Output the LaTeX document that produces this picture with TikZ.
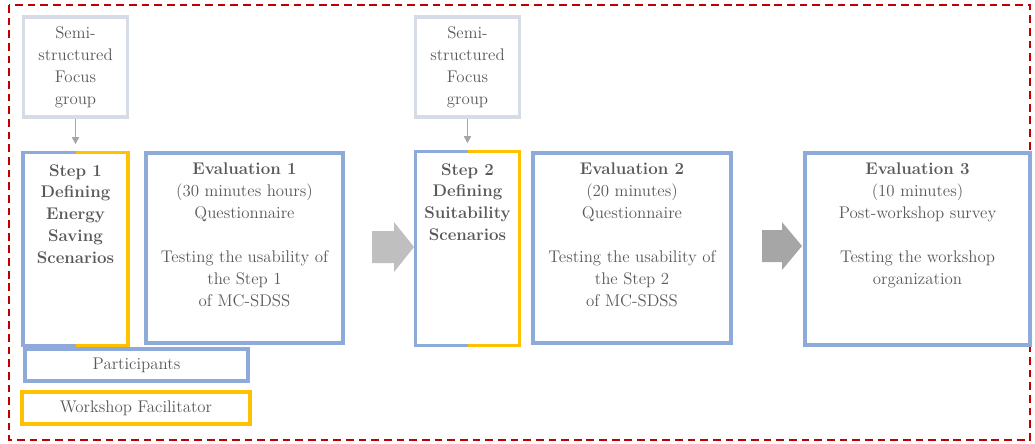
\documentclass[tikz,border=0pt]{standalone}
\usepackage{fontspec}
\usetikzlibrary{positioning,arrows.meta}
\definecolor{boxblue}{HTML}{8EAADB}
\definecolor{boxorange}{HTML}{FFC000}
\definecolor{focusgray}{HTML}{D6DCE5}
\definecolor{textgray}{HTML}{595959}
\definecolor{dashred}{HTML}{C00000}
\definecolor{arrowlight}{HTML}{BFBFBF}
\definecolor{arrowdark}{HTML}{A6A6A6}
\begin{document}
\begin{tikzpicture}[x=0.025cm,y=-0.025cm,
    every node/.style={text=textgray,font=\fontsize{12}{15.6}\selectfont,align=center},
    focus_node/.style={draw=focusgray,line width=2.5pt,minimum width=2.6cm,minimum height=2.5cm,inner sep=0pt},
    step_node/.style={minimum width=2.6cm,minimum height=4.8cm,inner sep=0pt},
    eval_node/.style={draw=boxblue,line width=2.5pt,minimum height=4.75cm,inner sep=0pt},
    legend_node/.style={line width=2.5pt,minimum height=0.8cm,inner sep=0pt},
    text_node/.style={inner sep=0pt},
    small_arrow/.style={arrowdark,line width=1pt,-{Triangle[length=5pt,width=5pt]},shorten >=6pt}]

    \useasboundingbox (0,0) rectangle (1035,443);
    \draw[dashred,dashed,line width=1pt,dash pattern=on 5.5pt off 3.5pt] (9,5) rectangle (1030,440);

    \node[focus_node] (f1) at (75.5,67) {Semi-\\structured\\Focus\\group};
    \node[step_node] (s1) at (75.5,249) {};
    \node[eval_node,minimum width=4.925cm] (e1) at (244.5,248) {};
    \node[focus_node] (f2) at (467.5,67) {Semi-\\structured\\Focus\\group};
    \node[step_node,minimum width=2.575cm,minimum height=4.825cm] (s2) at (467.5,248.5) {};
    \node[eval_node,minimum width=4.95cm] (e2) at (632,248) {};
    \node[eval_node,minimum width=5.625cm,minimum height=4.8cm] (e3) at (917.5,249) {};

    \node[legend_node,draw=boxblue,minimum width=5.575cm] (part) at (136.5,365) {Participants};
    \node[legend_node,draw=boxorange,minimum width=5.7cm] (faci) at (136,408) {Workshop Facilitator};

    \draw[boxblue,line width=2.5pt] (s1.north) -| (s1.south west) -- (s1.south);
    \draw[boxorange,line width=2.5pt] (s1.north) -| (s1.south east) -- (s1.south);
    \draw[boxblue,line width=2.5pt] (s2.north) -| (s2.south west) -- (s2.south);
    \draw[boxorange,line width=2.5pt] (s2.north) -| (s2.south east) -- (s2.south);

    \node[text_node,below=8pt of s1.north,font=\fontsize{12}{15.6}\selectfont\bfseries] (s1t) {Step 1\\Defining\\Energy\\Saving\\Scenarios};
    \node[text_node,below=8pt of s2.north,font=\fontsize{12}{15.6}\selectfont\bfseries] (s2t) {Step 2\\Defining\\Suitability\\Scenarios};
    \node[text_node,below=8pt of e1.north] (e1t) {\textbf{Evaluation 1}\\(30 minutes hours)\\Questionnaire\\[15.6pt]Testing the usability of\\the Step 1\\of MC-SDSS};
    \node[text_node,below=8pt of e2.north] (e2t) {\textbf{Evaluation 2}\\(20 minutes)\\Questionnaire\\[15.6pt]Testing the usability of\\the Step 2\\of MC-SDSS};
    \node[text_node,below=8pt of e3.north] (e3t) {\textbf{Evaluation 3}\\(10 minutes)\\Post-workshop survey\\[15.6pt]Testing the workshop\\organization};

    \draw[small_arrow] (f1) -- (s1);
    \draw[small_arrow] (f2) -- (s2);

    \fill[arrowlight] (372,231) -- (394,231) -- (394,222) -- (414,247) -- (394,272) -- (394,263) -- (372,263) -- cycle;
    \fill[arrowdark] (762,230) -- (782,230) -- (782,222) -- (802,246) -- (782,270) -- (782,262) -- (762,262) -- cycle;
\end{tikzpicture}
\end{document}
